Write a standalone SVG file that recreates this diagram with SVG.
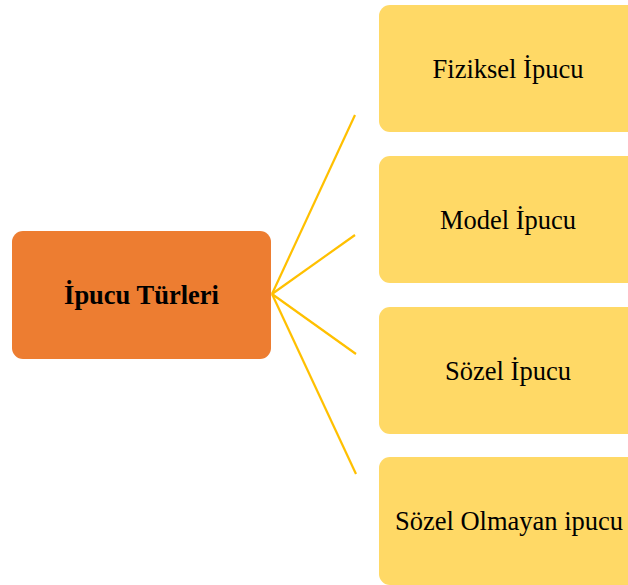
<svg xmlns="http://www.w3.org/2000/svg" width="628" height="585" viewBox="0 0 628 585">
<style>
.root{fill:#ED7D31}
.leaf{fill:#FFD966}
.t{font-family:"Liberation Serif","Times New Roman",serif;font-size:26.5px;fill:#000;text-anchor:middle}
.b{font-weight:bold}
.c{stroke:#FFC000;stroke-width:2.2;fill:none}
</style>
<rect width="628" height="585" fill="#fff"/>
<g id="connectors">
<line class="c" x1="272" y1="294" x2="355" y2="115"/>
<line class="c" x1="272" y1="294" x2="355" y2="235"/>
<line class="c" x1="272" y1="294" x2="356" y2="354"/>
<line class="c" x1="272" y1="294" x2="356" y2="474"/>
</g>
<g id="node-root">
<rect class="root" x="12" y="231" width="259" height="128" rx="11"/>
<text class="t b" x="141.5" y="304">İpucu Türleri</text>
</g>
<g id="node-fiziksel">
<rect class="leaf" x="379" y="5" width="262" height="127" rx="11"/>
<text class="t" x="508" y="77.5">Fiziksel İpucu</text>
</g>
<g id="node-model">
<rect class="leaf" x="379" y="156" width="262" height="127" rx="11"/>
<text class="t" x="508" y="228.5">Model İpucu</text>
</g>
<g id="node-sozel">
<rect class="leaf" x="379" y="307" width="262" height="127" rx="11"/>
<text class="t" x="508" y="379.5">Sözel İpucu</text>
</g>
<g id="node-sozel-olmayan">
<rect class="leaf" x="379" y="457" width="262" height="128" rx="11"/>
<text class="t" x="509" y="530">Sözel Olmayan ipucu</text>
</g>
</svg>
